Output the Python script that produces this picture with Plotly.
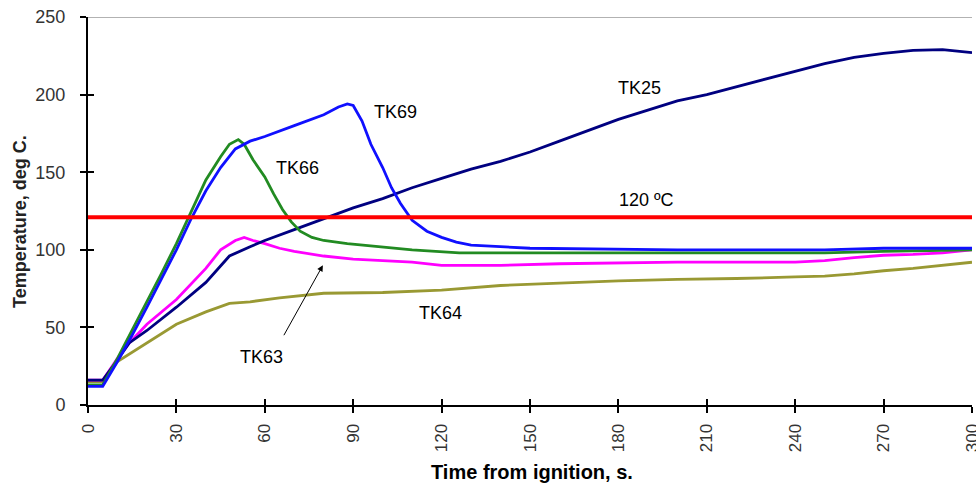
import plotly.graph_objects as go

# ---- data ----
tk25_t = [0, 5, 10, 14, 20, 30, 40, 48, 55, 60, 70, 80, 90, 100, 110, 120, 130, 140, 150, 160,
          170, 180, 190, 200, 210, 220, 230, 240, 250, 260, 270, 280, 290, 300]
tk25_v = [16, 16, 29, 40, 48, 63, 79, 96, 102, 106, 113, 120, 127, 133, 140, 146, 152, 157, 163, 170,
          177, 184, 190, 196, 200, 205, 210, 215, 220, 224, 226.5, 228.5, 229, 227]

tk69_t = [0, 5, 10, 15, 20, 25, 30, 35, 40, 45, 50, 55, 60, 70, 80, 85, 88, 90, 93, 96, 100, 103,
          106, 110, 115, 120, 125, 130, 140, 150, 200, 250, 270, 300]
tk69_v = [12, 12, 28, 45, 63, 81, 100, 120, 138, 153, 165, 170, 173, 180, 187, 192, 194, 193, 183, 168,
          153, 140, 130, 119, 112, 108, 105, 103, 102, 101, 100, 100, 101, 101]

tk66_t = [0, 5, 10, 15, 20, 25, 30, 35, 40, 45, 48, 51, 53, 56, 60, 63, 66, 69, 72, 76, 80, 88,
          100, 110, 126, 150, 200, 250, 270, 300]
tk66_v = [13, 13, 30, 48, 66, 85, 104, 125, 145, 160, 168, 171, 168, 158, 147, 136, 126, 118, 112, 108,
          106, 104, 102, 100, 98, 98, 98, 98, 99, 100]

tk63_t = [0, 5, 10, 14, 20, 30, 40, 45, 50, 53, 56, 60, 65, 70, 80, 90, 100, 110, 120, 140, 160,
          200, 240, 250, 260, 270, 280, 290, 300]
tk63_v = [16, 16, 30, 40, 52, 68, 88, 100, 106, 108, 106, 104, 101, 99, 96, 94, 93, 92, 90, 90, 91,
          92, 92, 93, 95, 96.5, 97, 98, 100]

tk64_t = [0, 5, 10, 20, 30, 40, 48, 55, 65, 80, 100, 120, 140, 160, 180, 200, 220, 240, 250, 260,
          270, 280, 290, 300]
tk64_v = [15, 15, 28, 40, 52, 60, 65.5, 66.5, 69, 72, 72.5, 74, 77, 78.5, 80, 81, 81.5, 82.5, 83, 84.5,
          86.5, 88, 90, 92]

limit_t = [0, 300]
limit_v = [121, 121]

x_ticks = [0, 30, 60, 90, 120, 150, 180, 210, 240, 270, 300]
y_ticks = [0, 50, 100, 150, 200, 250]

FONT = "Liberation Sans, Arial, sans-serif"

fig = go.Figure()
series = [
    (tk64_t, tk64_v, "#999933", "TK64"),
    (tk63_t, tk63_v, "#ff00ff", "TK63"),
    (tk25_t, tk25_v, "#000080", "TK25"),
    (tk66_t, tk66_v, "#228b22", "TK66"),
    (tk69_t, tk69_v, "#1010ff", "TK69"),
]
for t, v, c, n in series:
    fig.add_trace(go.Scatter(x=t, y=v, mode="lines", name=n,
                             line=dict(color=c, width=2.8), line_shape="linear"))
fig.add_trace(go.Scatter(x=limit_t, y=limit_v, mode="lines", name="120 ºC",
                         line=dict(color="#ff0000", width=4)))

# ghost trace on overlay axes for inner tick halves
fig.add_trace(go.Scatter(x=[None], y=[None], xaxis="x2", yaxis="y2", showlegend=False))

axis_common = dict(showgrid=False, zeroline=False, showline=True, linecolor="#000000", linewidth=2,
                   ticks="outside", ticklen=6, tickwidth=2, tickcolor="#000000", automargin=False,
                   ticklabeloverflow="allow")

fig.update_layout(
    width=976, height=486,
    margin=dict(l=88, r=4, t=17, b=81),
    paper_bgcolor="white", plot_bgcolor="white",
    showlegend=False,
    font=dict(family=FONT, color="#222222"),
    xaxis=dict(range=[0, 300], tickvals=x_ticks, tickangle=-90, ticklabelstandoff=4,
               tickfont=dict(size=17, color="#333333"), **axis_common),
    yaxis=dict(range=[0, 250], tickvals=y_ticks, ticklabelstandoff=11,
               tickfont=dict(size=18, color="#333333"), **axis_common),
    xaxis2=dict(range=[0, 300], overlaying="x", tickvals=x_ticks, ticks="inside", ticklen=6,
                tickwidth=2, tickcolor="#000000", showticklabels=False, showgrid=False,
                zeroline=False, showline=False, anchor="y", automargin=False),
    yaxis2=dict(range=[0, 250], overlaying="y", tickvals=y_ticks, ticks="inside", ticklen=6,
                tickwidth=2, tickcolor="#000000", showticklabels=False, showgrid=False,
                zeroline=False, showline=False, anchor="x", automargin=False),
)

# top border line
fig.add_shape(type="line", xref="x", yref="y", x0=0, x1=300, y0=250, y1=250,
              line=dict(color="#999999", width=1.5))

labels = [
    ("TK25", 187, 204), ("TK69", 104.5, 189), ("TK66", 71, 153),
    ("TK64", 119.5, 59), ("TK63", 59, 31), ("120 ºC", 189.5, 132),
]
for txt, x, y in labels:
    fig.add_annotation(x=x, y=y, text=txt, showarrow=False,
                       font=dict(family=FONT, size=18, color="#000000"))

fig.add_annotation(x=79.7, y=90, ax=66.2, ay=44, axref="x", ayref="y", xref="x", yref="y",
                   text="", showarrow=True, arrowhead=2, arrowsize=1.2, arrowwidth=1,
                   arrowcolor="#000000")

fig.add_annotation(x=(532 - 88) / 884, y=(405 - 472) / 388, xref="paper", yref="paper",
                   text="<b>Time from ignition, s.</b>", showarrow=False,
                   xanchor="center", yanchor="middle",
                   font=dict(family=FONT, size=20, color="#000000"))
fig.add_annotation(x=(20 - 88) / 884, y=(405 - 222) / 388, xref="paper", yref="paper",
                   text="<b>Temperature, deg C.</b>", showarrow=False, textangle=-90,
                   xanchor="center", yanchor="middle",
                   font=dict(family=FONT, size=18, color="#222222"))

fig.write_html("out.html", post_script="document.body.style.margin='0';",
               config={"displayModeBar": False})
